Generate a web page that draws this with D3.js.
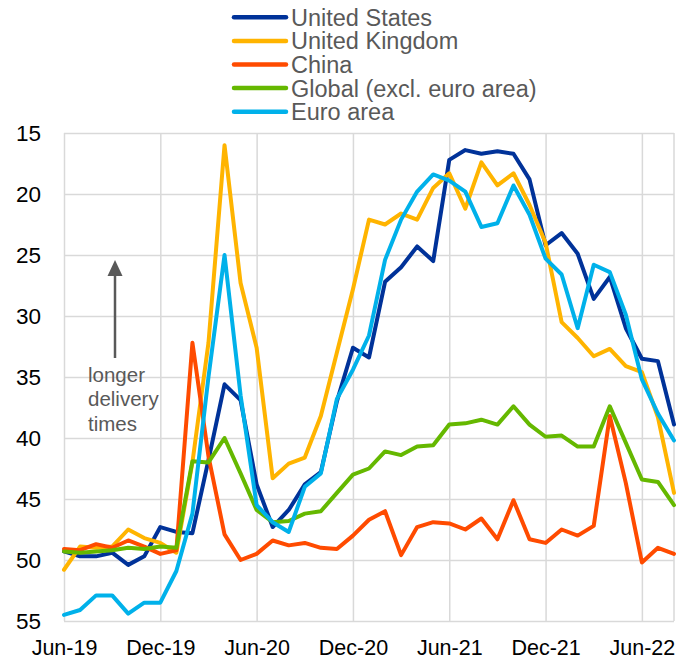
<!DOCTYPE html>
<html>
<head>
<meta charset="utf-8">
<script src="https://cdn.jsdelivr.net/npm/d3@7"></script>
<style>
  body { margin: 0; background: #fff; }
  svg { display: block; font-family: "Liberation Sans", Arial, sans-serif; }
</style>
</head>
<body>
<div id="chart"></div>
<script>
// months Jun-19 .. Aug-22 (index 0..38)
const months = d3.range(39);
const tickIdx = [0, 6, 12, 18, 24, 30, 36];
const tickLabels = ["Jun-19", "Dec-19", "Jun-20", "Dec-20", "Jun-21", "Dec-21", "Jun-22"];
const yTicks = [15, 20, 25, 30, 35, 40, 45, 50, 55];

const seriesNames = ["United States", "United Kingdom", "China", "Global (excl. euro area)", "Euro area"];
const seriesColors = ["#003299", "#FFB400", "#FF4B00", "#65B800", "#00B1EA"];

const unitedStates = [49.3, 49.7, 49.7, 49.4, 50.4, 49.7, 47.3, 47.7, 47.8, 41.8, 35.6, 36.9, 43.8,
  47.3, 45.9, 43.8, 42.8, 37.0, 32.6, 33.4, 27.2, 26.0, 24.3, 25.5, 17.2, 16.4, 16.7, 16.5, 16.7,
  18.8, 24.2, 23.2, 24.9, 28.6, 26.8, 31.0, 33.5, 33.7, 38.9];
const unitedKingdom = [50.8, 48.9, 49.0, 48.9, 47.5, 48.2, 48.6, 49.4, 42.0, 32.2, 16.0, 27.3, 32.6,
  43.3, 42.1, 41.6, 38.2, 33.0, 27.8, 22.1, 22.5, 21.6, 22.1, 19.5, 18.3, 21.2, 17.4, 19.3, 18.3,
  20.9, 24.0, 30.5, 31.8, 33.3, 32.7, 34.1, 34.6, 38.3, 44.5];
const china = [49.1, 49.2, 48.7, 49.0, 48.4, 48.9, 49.5, 49.2, 32.2, 41.5, 47.9, 50.0, 49.5,
  48.4, 48.8, 48.6, 49.0, 49.1, 48.0, 46.7, 46.0, 49.6, 47.3, 46.9, 47.0, 47.5, 46.6, 48.3, 45.1,
  48.3, 48.6, 47.5, 48.0, 47.2, 38.2, 43.7, 50.2, 49.0, 49.5];
const globalExEA = [49.3, 49.4, 49.3, 49.2, 49.0, 49.1, 48.9, 49.0, 41.9, 42.0, 40.0, 42.9, 45.9,
  46.9, 46.8, 46.2, 46.0, 44.5, 43.0, 42.5, 41.1, 41.4, 40.7, 40.6, 38.9, 38.8, 38.5, 38.9, 37.4,
  38.9, 39.9, 39.8, 40.7, 40.7, 37.4, 40.4, 43.4, 43.6, 45.5];
const euroArea = [54.5, 54.1, 52.9, 52.9, 54.4, 53.5, 53.5, 50.9, 46.2, 35.0, 25.0, 36.5, 45.5,
  46.9, 47.7, 44.0, 42.9, 36.8, 34.4, 31.6, 25.4, 22.1, 19.8, 18.4, 18.9, 19.8, 22.7, 22.4, 19.3,
  21.7, 25.3, 26.6, 31.0, 25.8, 26.4, 29.9, 35.2, 38.0, 40.2];

const seriesValues = [unitedStates, unitedKingdom, china, globalExEA, euroArea];

const W = 683, H = 665;
const plotL = 64, plotR = 674, plotT = 133, plotB = 621;

const svg = d3.select("#chart").append("svg")
  .attr("width", W).attr("height", H);

const x = d3.scaleLinear().domain([0, 38]).range([plotL, plotR]);
const y = d3.scaleLinear().domain([15, 55]).range([plotT, plotB]);

//horizontal grid + y labels
const yAxis = svg.append("g")
  .attr("transform", `translate(${plotL},0)`)
  .call(d3.axisLeft(y).tickValues(yTicks).tickSize(-(plotR - plotL)).tickPadding(23));
yAxis.select(".domain").remove();
yAxis.selectAll("line").attr("stroke", "#d9d9d9").attr("stroke-width", 1.5);
yAxis.selectAll("text").attr("font-size", 22.5).attr("fill", "#000")
  .attr("font-family", "Liberation Sans, Arial, sans-serif");

//vertical grid + x labels
const xAxis = svg.append("g")
  .attr("transform", `translate(0,${plotB})`)
  .call(d3.axisBottom(x).tickValues(tickIdx).tickFormat((d, i) => tickLabels[i])
    .tickSize(-(plotB - plotT)).tickPadding(19));
xAxis.select(".domain").remove();
xAxis.selectAll("line").attr("stroke", "#d9d9d9").attr("stroke-width", 1.5);
xAxis.selectAll("text").attr("font-size", 21.5).attr("fill", "#000")
  .attr("font-family", "Liberation Sans, Arial, sans-serif");

//right border
svg.append("line")
  .attr("x1", x(38)).attr("x2", x(38)).attr("y1", plotT).attr("y2", plotB)
  .attr("stroke", "#d9d9d9").attr("stroke-width", 1.5);

//annotation arrow
const gray = "#595959";
svg.append("line")
  .attr("x1", 115).attr("x2", 115).attr("y1", 358).attr("y2", 272)
  .attr("stroke", gray).attr("stroke-width", 2.5);
svg.append("path")
  .attr("d", "M107.5,276 L115,260 L122.5,276 Z")
  .attr("fill", gray);
svg.append("text")
  .attr("x", 88).attr("y", 382)
  .attr("font-size", 20.5).attr("fill", gray)
  .selectAll("tspan")
  .data(["longer", "delivery", "times"])
  .join("tspan")
  .attr("x", 88)
  .attr("dy", (d, i) => i === 0 ? 0 : 24.3)
  .text(d => d);

//series lines
const line = d3.line()
  .x((d, i) => x(months[i]))
  .y(d => y(d));

svg.append("g").selectAll("path")
  .data(seriesValues)
  .join("path")
  .attr("d", d => line(d))
  .attr("fill", "none")
  .attr("stroke", (d, i) => seriesColors[i])
  .attr("stroke-width", 4)
  .attr("stroke-linejoin", "round")
  .attr("stroke-linecap", "round");

//legend
const legend = svg.append("g").selectAll("g")
  .data(seriesNames)
  .join("g")
  .attr("transform", (d, i) => `translate(0,${17.3 + i * 23.6})`);
legend.append("line")
  .attr("x1", 234).attr("x2", 286)
  .attr("stroke", (d, i) => seriesColors[i])
  .attr("stroke-width", 4.5)
  .attr("stroke-linecap", "round");
legend.append("text")
  .attr("x", 291).attr("dy", "0.36em")
  .attr("font-size", 23.5).attr("fill", gray)
  .text(d => d);
</script>
</body>
</html>
